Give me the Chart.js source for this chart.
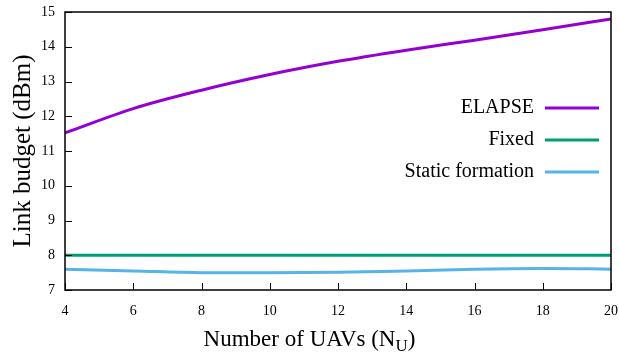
<!DOCTYPE html>
<html>
<head>
  <meta charset="UTF-8" />
  <title>Link budget vs number of UAVs</title>
  <script src="https://cdn.jsdelivr.net/npm/chart.js"></script>
  <style>
    html, body { margin: 0; padding: 0; background: #fff; }
    #wrap { width: 619px; height: 354px; }
  </style>
</head>
<body>
  <div id="wrap"><canvas id="chart"></canvas></div>

  <script>
    // data
    const uavCounts = [4, 6, 8, 10, 12, 14, 16, 18, 20];
    const elapseDbm = [11.52, 12.22, 12.75, 13.2, 13.58, 13.9, 14.19, 14.49, 14.8];
    const fixedDbm = [8.0, 8.0, 8.0, 8.0, 8.0, 8.0, 8.0, 8.0, 8.0];
    const staticDbm = [7.6, 7.55, 7.5, 7.5, 7.51, 7.55, 7.6, 7.62, 7.6];
    const seriesNames = ['ELAPSE', 'Fixed', 'Static formation'];
    const seriesColors = ['#9400d3', '#009e73', '#56b4e9'];
    const xTicks = [4, 6, 8, 10, 12, 14, 16, 18, 20];
    const yTicks = [7, 8, 9, 10, 11, 12, 13, 14, 15];

    const serif = "'Liberation Serif', 'DejaVu Serif', serif";

    function toPoints(vals) {
      return vals.map((v, i) => ({ x: uavCounts[i], y: v }));
    }

    // gnuplot style frame: box all round, ticks pointing inwards on left/bottom
    const framePlugin = {
      id: 'frame',
      afterDatasetsDraw(chart) {
        const ctx = chart.ctx;
        const a = chart.chartArea;
        const xs = chart.scales.x, ys = chart.scales.y;
        ctx.save();
        ctx.strokeStyle = '#000';
        ctx.lineWidth = 1.5;
        ctx.strokeRect(a.left, a.top, a.right - a.left, a.bottom - a.top);
        ctx.lineWidth = 1;
        ctx.beginPath();
        xTicks.forEach(t => {
          const px = Math.round(xs.getPixelForValue(t)) + 0.5;
          ctx.moveTo(px, a.bottom);
          ctx.lineTo(px, a.bottom - 7);
        });
        yTicks.forEach(t => {
          const py = Math.round(ys.getPixelForValue(t)) + 0.5;
          ctx.moveTo(a.left, py);
          ctx.lineTo(a.left + 7, py);
        });
        ctx.stroke();
        ctx.restore();
      }
    };

    // legend inside the plot, text right aligned, sample line to the right
    const keyPlugin = {
      id: 'key',
      afterDraw(chart) {
        const ctx = chart.ctx;
        ctx.save();
        ctx.font = '20px ' + serif;
        ctx.textAlign = 'right';
        ctx.textBaseline = 'middle';
        seriesNames.forEach((name, i) => {
          const y = 108 + i * 32;
          ctx.fillStyle = '#000';
          ctx.fillText(name, 534, y);
          ctx.strokeStyle = seriesColors[i];
          ctx.lineWidth = 3;
          ctx.beginPath();
          ctx.moveTo(545, y);
          ctx.lineTo(599, y);
          ctx.stroke();
        });
        ctx.restore();
      }
    };

    // x axis title with subscript, centred on the page like the original
    const xTitlePlugin = {
      id: 'xTitle',
      afterDraw(chart) {
        const ctx = chart.ctx;
        const main = 'Number of UAVs (N';
        const sub = 'U';
        const close = ')';
        ctx.save();
        ctx.fillStyle = '#000';
        ctx.textBaseline = 'alphabetic';
        ctx.font = '23px ' + serif;
        const w1 = ctx.measureText(main).width;
        const w3 = ctx.measureText(close).width;
        ctx.font = '17px ' + serif;
        const w2 = ctx.measureText(sub).width;
        const total = w1 + w2 + w3;
        let x = chart.width / 2 - total / 2;
        const base = 346;
        ctx.textAlign = 'left';
        ctx.font = '23px ' + serif;
        ctx.fillText(main, x, base);
        x += w1;
        ctx.font = '17px ' + serif;
        ctx.fillText(sub, x, base + 5);
        x += w2;
        ctx.font = '23px ' + serif;
        ctx.fillText(close, x, base);
        ctx.restore();
      }
    };

    const datasets = [elapseDbm, fixedDbm, staticDbm].map((vals, i) => ({
      label: seriesNames[i],
      data: toPoints(vals),
      borderColor: seriesColors[i],
      backgroundColor: seriesColors[i],
      borderWidth: 3,
      pointRadius: 0,
      cubicInterpolationMode: 'monotone',
      fill: false
    }));

    new Chart(document.getElementById('chart').getContext('2d'), {
      type: 'line',
      data: { datasets: datasets },
      options: {
        responsive: true,
        maintainAspectRatio: false,
        animation: false,
        layout: { padding: { top: 12, right: 8, left: 0, bottom: 0 } },
        plugins: {
          legend: { display: false },
          tooltip: { enabled: false }
        },
        scales: {
          x: {
            type: 'linear',
            min: 4,
            max: 20,
            afterBuildTicks(scale) { scale.ticks = xTicks.map(v => ({ value: v })); },
            afterFit(scale) {
              scale.height = 64;
              scale.paddingLeft = 0;
              scale.paddingRight = 0;
            },
            grid: { display: false, drawTicks: false },
            border: { display: false },
            ticks: {
              color: '#000',
              padding: 13,
              maxRotation: 0,
              font: { family: serif, size: 14 }
            }
          },
          y: {
            min: 7,
            max: 15,
            afterBuildTicks(scale) { scale.ticks = yTicks.map(v => ({ value: v })); },
            afterFit(scale) {
              scale.width = 65;
              scale.paddingTop = 0;
              scale.paddingBottom = 0;
            },
            grid: { display: false, drawTicks: false },
            border: { display: false },
            title: {
              display: true,
              text: 'Link budget (dBm)',
              color: '#000',
              font: { family: serif, size: 25 },
              padding: { top: 8, bottom: 0 }
            },
            ticks: {
              color: '#000',
              padding: 10,
              font: { family: serif, size: 14 }
            }
          }
        }
      },
      plugins: [framePlugin, keyPlugin, xTitlePlugin]
    });
  </script>
</body>
</html>
